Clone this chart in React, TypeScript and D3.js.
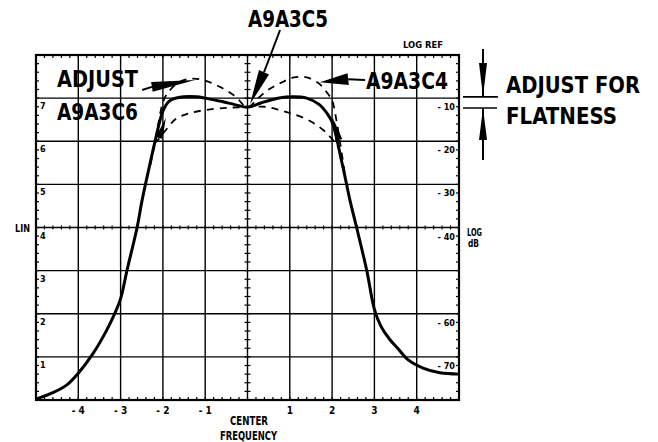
import React from "react";
import * as d3 from "d3";

// ---- data (frequency in divisions from center, amplitude in LIN divisions) ----
const solidX = [-5, -4.6, -4.27, -4.0, -3.65, -3.35, -3.15, -3.0, -2.85, -2.61, -2.49, -2.3, -2.15, -2.0, -1.85, -1.6, -1.2, -1.0, -0.6, -0.3, 0, 0.3, 0.6, 1.0, 1.4, 1.7, 1.9, 2.0, 2.1, 2.2, 2.3, 2.42, 2.58, 2.82, 3.0, 3.15, 3.35, 3.55, 3.8, 4.15, 4.55, 5.0];
const solidY = [0.02, 0.17, 0.35, 0.62, 1.08, 1.58, 1.98, 2.35, 3.0, 4.0, 4.64, 5.5, 6.15, 6.7, 6.93, 7.02, 7.03, 7.0, 6.92, 6.85, 6.79, 6.88, 6.97, 7.03, 7.0, 6.85, 6.62, 6.45, 6.1, 5.65, 5.2, 4.64, 4.0, 3.0, 2.1, 1.72, 1.42, 1.2, 0.93, 0.74, 0.63, 0.6];

const upperX = [-2.3, -2.2, -2.1, -2.0, -1.9, -1.65, -1.35, -1.05, -0.65, -0.3, 0, 0.25, 0.5, 0.8, 1.1, 1.4, 1.7, 1.9, 2.0, 2.1, 2.2, 2.3];
const upperY = [5.45, 5.9, 6.45, 6.9, 7.1, 7.35, 7.45, 7.42, 7.26, 7.05, 6.79, 7.0, 7.2, 7.36, 7.48, 7.48, 7.33, 7.1, 6.95, 6.5, 5.9, 5.25];

const lowerX = [-2.2, -2.1, -1.93, -1.69, -1.33, -0.79, -0.4, 0, 0.4, 0.77, 1.08, 1.48, 1.79, 2.0, 2.15];
const lowerY = [5.95, 6.05, 6.26, 6.52, 6.66, 6.75, 6.78, 6.79, 6.8, 6.72, 6.63, 6.47, 6.26, 6.05, 5.85];

const xTicks = [-4, -3, -2, -1, 1, 2, 3, 4];
const xTickLabels = ["- 4", "- 3", "- 2", "- 1", "1", "2", "3", "4"];
const linTicks = [7, 6, 5, 4, 3, 2, 1];
const logTicks = [7, 6, 5, 4, 2, 1];
const logLabels = ["- 10", "- 20", "- 30", "- 40", "- 60", "- 70"];

// annotation arrows: [tailX, tailY, baseX, baseY, tipX, tipY, halfWidth]
const arrowAdjust = [-2.49, 7.19, -2.26, 7.26, -1.24, 7.42, 5];
const arrowC5 = [0.77, 8.58, 0.39, 7.6, 0.06, 6.86, 5.5];
const arrowC4 = [2.78, 7.42, 2.38, 7.44, 1.71, 7.37, 6];
const wedgeLeft = [-2.09, 6.08, -2.09, 6.08, -1.93, 6.54, 3.5];
const wedgeRight = [2.16, 6.03, 2.16, 6.03, 2.02, 6.54, 3.5];
const flatBand = [7.03, 6.77];

const W = 658;
const H = 442;
const FONT = "'DejaVu Sans Condensed', 'Liberation Sans Narrow', 'DejaVu Sans', sans-serif";

export default function App() {
  const xs = d3.scaleLinear().domain([-5, 5]).range([36, 459]);
  const ys = d3.scaleLinear().domain([0, 8]).range([400, 55]);

  const mkLine = (X: number[], Y: number[]) =>
    d3
      .line<number>()
      .x((_, i) => xs(X[i]))
      .y((_, i) => ys(Y[i]))
      .curve(d3.curveCatmullRom.alpha(0.5))(X) as string;

  const gridX = d3.range(-5, 5.001, 1);
  const gridY = d3.range(0, 8.001, 1);
  const minorX = d3.range(-5, 5.001, 0.2);
  const minorY = d3.range(0, 8.001, 0.2);

  const arrow = (a: number[], key: string) => {
    const [tx, ty, bx, by, px, py, hw] = a;
    const T = [xs(tx), ys(ty)];
    const B = [xs(bx), ys(by)];
    const P = [xs(px), ys(py)];
    const dx = P[0] - B[0];
    const dy = P[1] - B[1];
    const len = Math.hypot(dx, dy);
    const nx = -dy / len;
    const ny = dx / len;
    const pts = `${B[0] + nx * hw},${B[1] + ny * hw} ${P[0]},${P[1]} ${B[0] - nx * hw},${B[1] - ny * hw}`;
    return (
      <g key={key}>
        <line x1={T[0]} y1={T[1]} x2={B[0]} y2={B[1]} stroke="#000" strokeWidth={2} />
        <polygon points={pts} fill="#000" />
      </g>
    );
  };

  const fx = 483;
  const yTop = ys(flatBand[0]);
  const yBot = ys(flatBand[1]);

  return (
    <svg
      width={W}
      height={H}
      viewBox={`0 0 ${W} ${H}`}
      style={{ position: "absolute", left: 0, top: 0, background: "#fff" }}
      fontFamily={FONT}
    >
      <rect x={0} y={0} width={W} height={H} fill="#fff" />
      {/* grid */}
      {gridX.map((v) => (
        <line key={"gx" + v} x1={xs(v)} x2={xs(v)} y1={ys(0)} y2={ys(8)} stroke="#000" strokeWidth={1.4} />
      ))}
      {gridY.map((v) => (
        <line key={"gy" + v} x1={xs(-5)} x2={xs(5)} y1={ys(v)} y2={ys(v)} stroke="#000" strokeWidth={1.4} />
      ))}
      <rect x={xs(-5)} y={ys(8)} width={xs(5) - xs(-5)} height={ys(0) - ys(8)} fill="none" stroke="#000" strokeWidth={2.2} />
      {/* minor ticks */}
      {minorX.map((v, i) => (
        <g key={"mx" + i}>
          <line x1={xs(v)} x2={xs(v)} y1={ys(8)} y2={ys(8) + 3} stroke="#000" strokeWidth={1.2} />
          <line x1={xs(v)} x2={xs(v)} y1={ys(0)} y2={ys(0) - 3} stroke="#000" strokeWidth={1.2} />
          <line x1={xs(v)} x2={xs(v)} y1={ys(4) - 2} y2={ys(4) + 2} stroke="#000" strokeWidth={1.2} />
        </g>
      ))}
      {minorY.map((v, i) => (
        <g key={"my" + i}>
          <line x1={xs(0) - 3} x2={xs(0) + 3} y1={ys(v)} y2={ys(v)} stroke="#000" strokeWidth={1.2} />
          <line x1={xs(-5)} x2={xs(-5) + 3} y1={ys(v)} y2={ys(v)} stroke="#000" strokeWidth={1.2} />
          <line x1={xs(5)} x2={xs(5) - 3} y1={ys(v)} y2={ys(v)} stroke="#000" strokeWidth={1.2} />
        </g>
      ))}
      {/* curves */}
      <path d={mkLine(upperX, upperY)} fill="none" stroke="#000" strokeWidth={1.8} strokeDasharray="7 6" />
      <path d={mkLine(lowerX, lowerY)} fill="none" stroke="#000" strokeWidth={1.8} strokeDasharray="7 6" />
      <path d={mkLine(solidX, solidY)} fill="none" stroke="#000" strokeWidth={3} strokeLinejoin="round" />
      {/* arrows */}
      {arrow(arrowAdjust, "aa")}
      {arrow(arrowC5, "a5")}
      {arrow(arrowC4, "a4")}
      {arrow(wedgeLeft, "wl")}
      {arrow(wedgeRight, "wr")}
      {/* tick labels */}
      {xTicks.map((v, i) => (
        <text key={"xt" + v} x={xs(v)} y={414} textAnchor="middle" fontSize={10} fontWeight="bold">
          {xTickLabels[i]}
        </text>
      ))}
      {linTicks.map((v) => (
        <text key={"lt" + v} x={xs(-5) + 4} y={ys(v) + 11} fontSize={9} fontWeight="bold">
          {v}
        </text>
      ))}
      {logTicks.map((v, i) => (
        <text key={"rt" + v} x={xs(5) - 4} y={ys(v) + 12} textAnchor="end" fontSize={9} fontWeight="bold">
          {logLabels[i]}
        </text>
      ))}
      <text x={403} y={48} fontSize={9} fontWeight="bold" textLength={40} lengthAdjust="spacingAndGlyphs">LOG REF</text>
      <text x={15} y={232} fontSize={11} fontWeight="bold" textLength={15} lengthAdjust="spacingAndGlyphs">LIN</text>
      <text x={467} y={236} fontSize={10} fontWeight="bold" textLength={15} lengthAdjust="spacingAndGlyphs">LOG</text>
      <text x={468} y={247} fontSize={10} fontWeight="bold" textLength={11} lengthAdjust="spacingAndGlyphs">dB</text>
      <text x={230} y={425} fontSize={12} fontWeight="bold" textLength={38} lengthAdjust="spacingAndGlyphs">CENTER</text>
      <text x={220} y={440} fontSize={12} fontWeight="bold" textLength={57} lengthAdjust="spacingAndGlyphs">FREQUENCY</text>
      {/* annotation text */}
      <text x={248} y={27} fontSize={23} fontWeight="bold" textLength={80} lengthAdjust="spacingAndGlyphs">A9A3C5</text>
      <text x={57} y={87} fontSize={23} fontWeight="bold" textLength={81} lengthAdjust="spacingAndGlyphs">ADJUST</text>
      <text x={57} y={120} fontSize={23} fontWeight="bold" textLength={81} lengthAdjust="spacingAndGlyphs">A9A3C6</text>
      <text x={366} y={89} fontSize={23} fontWeight="bold" textLength={82} lengthAdjust="spacingAndGlyphs">A9A3C4</text>
      <text x={506} y={93} fontSize={23} fontWeight="bold" textLength={134} lengthAdjust="spacingAndGlyphs">ADJUST FOR</text>
      <text x={506} y={124} fontSize={23} fontWeight="bold" textLength={111} lengthAdjust="spacingAndGlyphs">FLATNESS</text>
      {/* flatness marker */}
      <line x1={463} x2={498} y1={yTop} y2={yTop} stroke="#000" strokeWidth={1.6} />
      <line x1={463} x2={497} y1={yBot} y2={yBot} stroke="#000" strokeWidth={1.6} />
      <line x1={fx} x2={fx} y1={49} y2={yTop} stroke="#000" strokeWidth={2} />
      <polygon points={`${fx - 4},${63} ${fx},${yTop} ${fx + 4},${63}`} fill="#000" />
      <line x1={fx} x2={fx} y1={160} y2={yBot} stroke="#000" strokeWidth={2} />
      <polygon points={`${fx - 4},${140} ${fx},${yBot} ${fx + 4},${140}`} fill="#000" />
    </svg>
  );
}
